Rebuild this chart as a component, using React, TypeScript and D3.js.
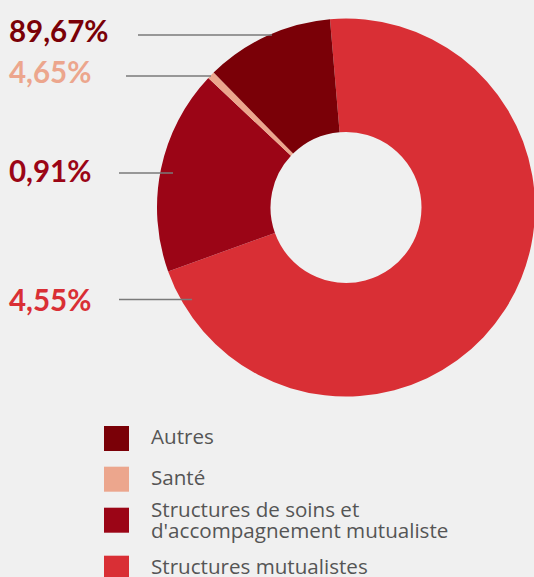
import React from "react";
import * as d3 from "d3";

// Data (legend order)
const categories = [
  "Autres",
  "Santé",
  "Structures de soins et\nd'accompagnement mutualiste",
  "Structures mutualistes",
];
const values = [11.0, 0.64, 17.5, 70.86];
const colors = ["#7a0007", "#eca68d", "#9b0516", "#d92f35"];

// Callout labels as printed on the chart
const labelTexts = ["89,67%", "4,65%", "0,91%", "4,55%"];
const labelColors = ["#7a0007", "#eca68d", "#9b0516", "#d92f35"];

// Layout (not data)
const W = 534;
const H = 577;
const cx = 346;
const cy = 207.5;
const R = 189;
const r = 75.5;
const startDeg = -4.86;
const labelLayout = [
  { x: 9, y: 41.5, x1: 138, x2: 272, ly: 35 },
  { x: 9, y: 83, x1: 126, x2: 211, ly: 76 },
  { x: 9, y: 182, x1: 119, x2: 173, ly: 173 },
  { x: 9, y: 310.5, x1: 119, x2: 192, ly: 299.5 },
];

export default function App() {
  // Drawn clockwise from the top in reverse legend order
  const order = [3, 2, 1, 0];
  const pie = d3
    .pie<number>()
    .sort(null)
    .value((i) => values[i])
    .startAngle((startDeg * Math.PI) / 180)
    .endAngle((startDeg * Math.PI) / 180 + 2 * Math.PI);
  const arcs = pie(order);
  const arcGen = d3.arc<d3.PieArcDatum<number>>().innerRadius(r).outerRadius(R);

  const legendY = d3.scaleOrdinal<number, number>().domain([0, 1, 2, 3]).range([426, 466.7, 507.7, 555.7]);

  return (
    <svg
      width={W}
      height={H}
      style={{ position: "absolute", left: 0, top: 0, background: "#f0f0f0" }}
    >
      <rect x={0} y={0} width={W} height={H} fill="#f0f0f0" />
      <g transform={`translate(${cx},${cy})`}>
        {arcs.map((a) => (
          <path key={a.data} d={arcGen(a) || ""} fill={colors[a.data]} />
        ))}
      </g>
      {labelTexts.map((t, i) => {
        const L = labelLayout[i];
        return (
          <g key={t + i}>
            <line x1={L.x1} x2={L.x2} y1={L.ly} y2={L.ly} stroke="#7a7a7a" strokeWidth={1.5} />
            <text
              x={L.x}
              y={L.y}
              fill={labelColors[i]}
              fontFamily="Lato, 'Open Sans', sans-serif"
              fontWeight={700}
              fontSize={29.5}
            >
              {t}
            </text>
          </g>
        );
      })}
      {categories.map((c, i) => {
        const y0 = legendY(i);
        const lines = c.split("\n");
        return (
          <g key={c}>
            <rect x={104} y={y0} width={25} height={25} fill={colors[i]} />
            <text
              x={151}
              y={y0 + 18}
              fill="#555555"
              fontFamily="'Open Sans', sans-serif"
              fontSize={20.6}
            >
              {lines.map((l, k) => (
                <tspan key={k} x={151} dy={k === 0 ? (lines.length > 1 ? -8.5 : 0) : 21}>
                  {l}
                </tspan>
              ))}
            </text>
          </g>
        );
      })}
    </svg>
  );
}
